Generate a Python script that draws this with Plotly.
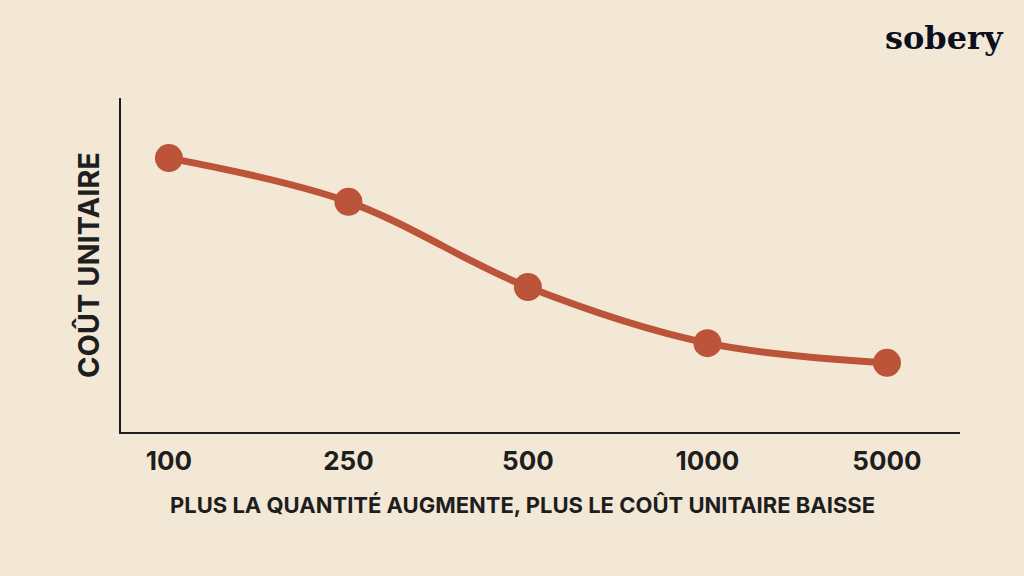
import plotly.graph_objects as go

quantities = ["100", "250", "500", "1000", "5000"]
unit_cost = [82.0, 68.9, 43.4, 26.6, 20.7]

BG = "#F3E8D6"
RED = "#BB5439"
INK = "#1E1E1E"

fig = go.Figure()
fig.add_trace(go.Scatter(
    x=list(range(len(quantities))), y=unit_cost,
    mode="lines+markers",
    line=dict(shape="spline", smoothing=1.0, width=7, color=RED),
    marker=dict(size=28, color=RED),
    hoverinfo="skip",
))

fig.update_layout(
    width=1024, height=576,
    paper_bgcolor=BG, plot_bgcolor=BG,
    margin=dict(l=121, r=64, t=98, b=144),
    showlegend=False,
    font=dict(family="Inter, Lato, sans-serif", color=INK),
    xaxis=dict(
        range=[-0.267, 4.407],
        tickmode="array", tickvals=list(range(len(quantities))), ticktext=quantities,
        showgrid=False, zeroline=False,
        showline=True, linecolor=INK, linewidth=2,
        ticks="", ticklabelstandoff=5,
        tickfont=dict(size=26, family="Inter, sans-serif", weight="bold", color=INK),
    ),
    yaxis=dict(
        range=[0, 100],
        showgrid=False, zeroline=False, showticklabels=False,
        showline=True, linecolor=INK, linewidth=2, ticks="",
        title=dict(text="COÛT UNITAIRE", standoff=11,
                   font=dict(size=29, family="Inter, sans-serif", weight="bold", color=INK)),
    ),
    annotations=[
        dict(text="PLUS LA QUANTITÉ AUGMENTE, PLUS LE COÛT UNITAIRE BAISSE",
             xref="paper", yref="paper", x=(522 - 121) / 839, y=-(505 - 432) / 334,
             xanchor="center", yanchor="middle", showarrow=False,
             font=dict(size=22, family="Inter, sans-serif", weight="bold", color=INK)),
        dict(text="sobery", xref="paper", yref="paper",
             x=(944 - 121) / 839, y=(432 - 38) / 334,
             xanchor="center", yanchor="middle", showarrow=False,
             font=dict(size=32, family="DejaVu Serif, serif", weight="bold", color="#0B0F1E")),
    ],
)

fig.write_html("out.html", config={"displayModeBar": False},
               post_script="document.body.style.margin='0';")
